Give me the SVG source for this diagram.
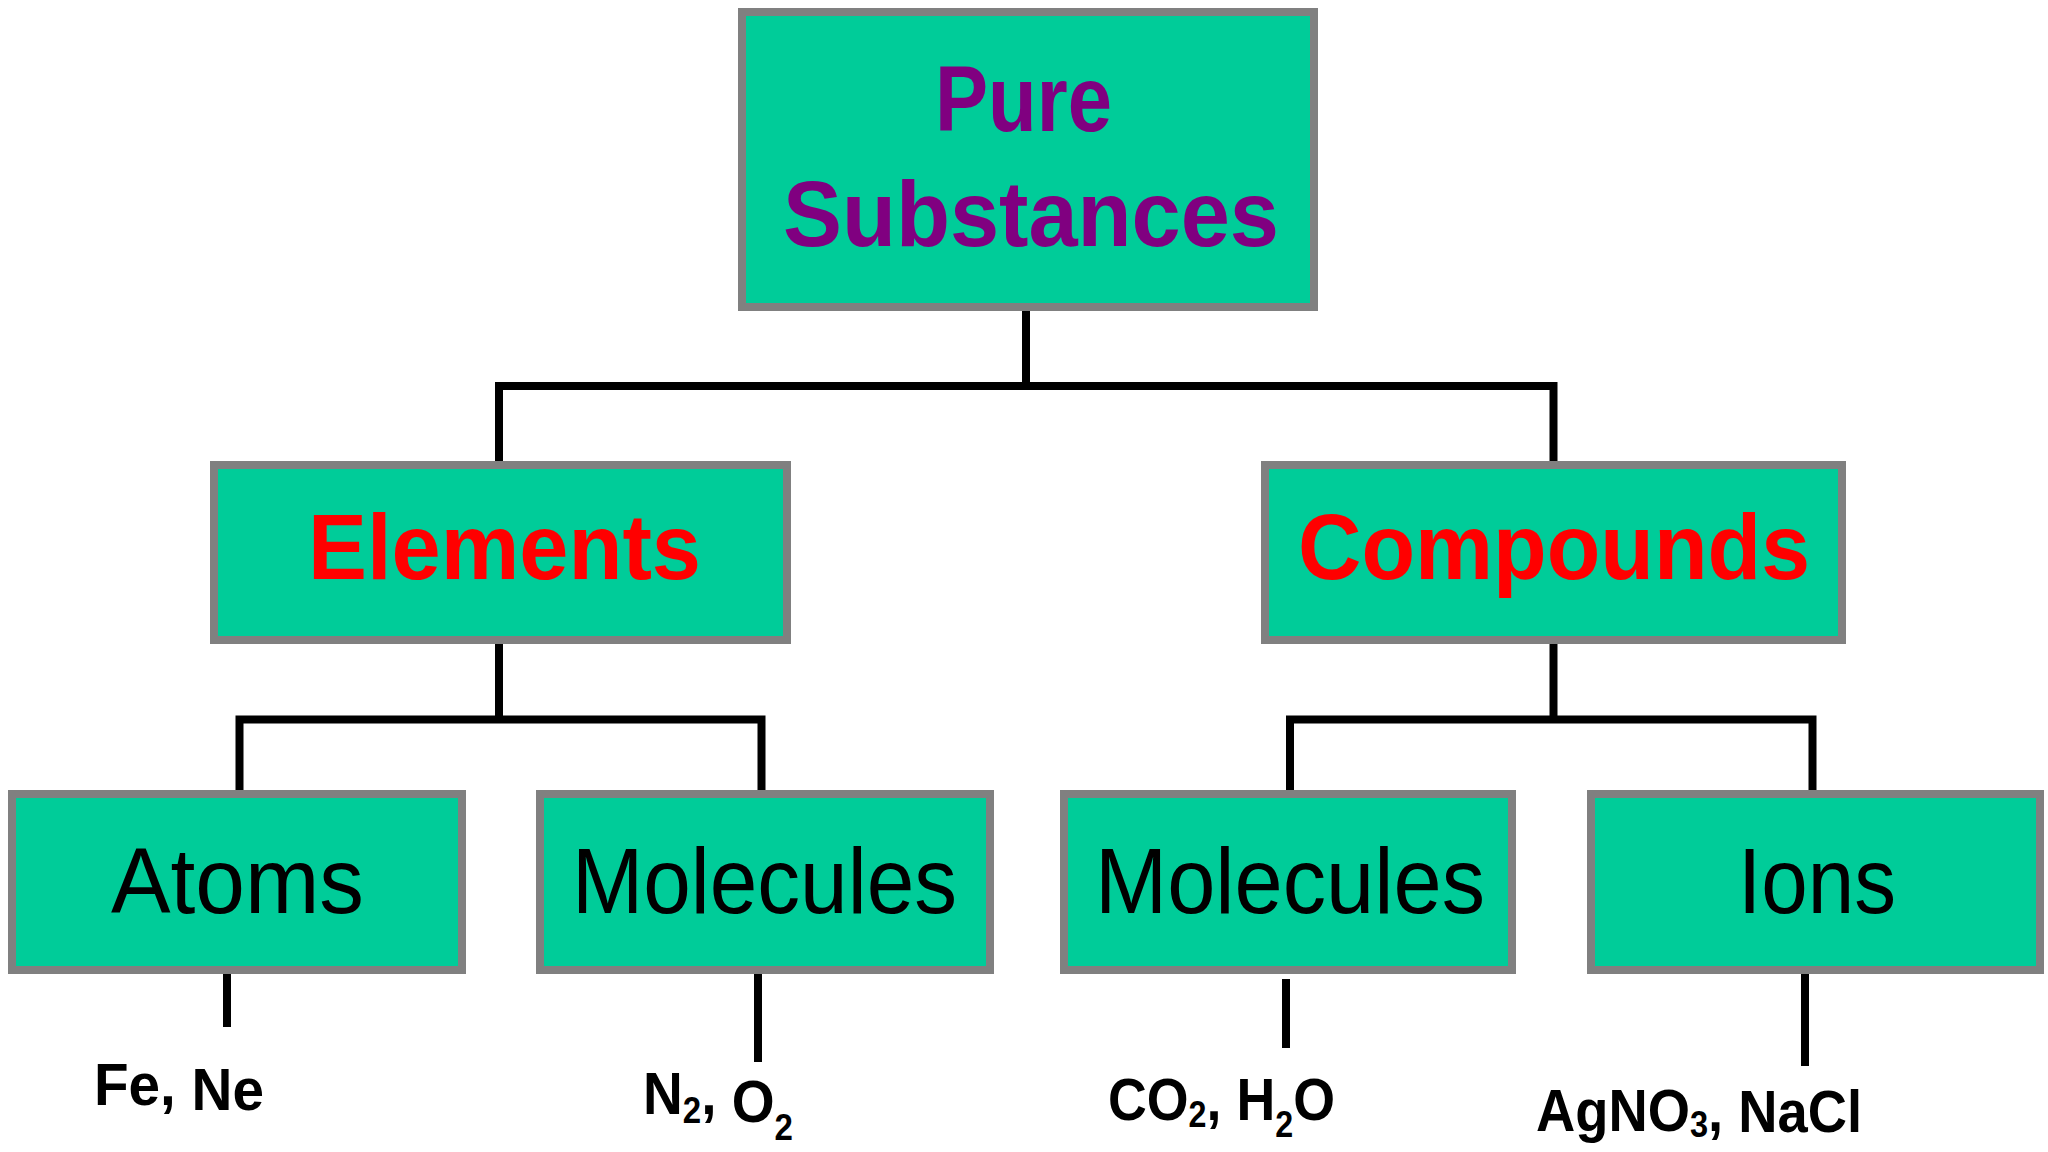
<svg xmlns="http://www.w3.org/2000/svg" width="2048" height="1152" viewBox="0 0 2048 1152">
<style>
.box{fill:#00cc99;stroke:#808080;stroke-width:8}
.con{fill:none;stroke:#000;stroke-width:8;stroke-linejoin:miter;stroke-linecap:butt}
.t{font-family:"Liberation Sans",Arial,sans-serif;font-size:92px}
.b{font-weight:bold}
.pur{fill:#800080}
.red{fill:#ff0000}
.blk{fill:#000}
.ex{font-family:"Liberation Sans",Arial,sans-serif;font-weight:bold;font-size:60px;fill:#000}
.sub{font-size:36px}
</style>
<rect width="2048" height="1152" fill="#ffffff"/>
<g id="connectors">
<path class="con" d="M1026 311 V386"/>
<path class="con" d="M499 461 V386 H1553.5 V461"/>
<path class="con" d="M499 644 V719.5"/>
<path class="con" d="M239.5 790 V719.5 H761.5 V790"/>
<path class="con" d="M1553.5 644 V719.5"/>
<path class="con" d="M1290 790 V719.5 H1812.5 V790"/>
<path class="con" d="M227 974 V1027"/>
<path class="con" d="M758 974 V1062"/>
<path class="con" d="M1286 979 V1048"/>
<path class="con" d="M1805 974 V1066"/>
</g>
<g id="pure-substances">
<rect class="box" x="742" y="12" width="572" height="295"/>
<text class="t b pur" x="935" y="131" textLength="177" lengthAdjust="spacingAndGlyphs">Pure</text>
<text class="t b pur" x="783" y="246" textLength="496" lengthAdjust="spacingAndGlyphs">Substances</text>
</g>
<g id="elements">
<rect class="box" x="214" y="465" width="573" height="175"/>
<text class="t b red" x="308" y="579" textLength="393" lengthAdjust="spacingAndGlyphs">Elements</text>
</g>
<g id="compounds">
<rect class="box" x="1265" y="465" width="577" height="175"/>
<text class="t b red" x="1298" y="579" textLength="512" lengthAdjust="spacingAndGlyphs">Compounds</text>
</g>
<g id="atoms">
<rect class="box" x="12" y="794" width="450" height="176"/>
<text class="t blk" x="111" y="913" textLength="253" lengthAdjust="spacingAndGlyphs">Atoms</text>
</g>
<g id="molecules-elements">
<rect class="box" x="540" y="794" width="450" height="176"/>
<text class="t blk" x="572" y="913" textLength="385" lengthAdjust="spacingAndGlyphs">Molecules</text>
</g>
<g id="molecules-compounds">
<rect class="box" x="1064" y="794" width="448" height="176"/>
<text class="t blk" x="1095" y="913" textLength="390" lengthAdjust="spacingAndGlyphs">Molecules</text>
</g>
<g id="ions">
<rect class="box" x="1591" y="794" width="449" height="176"/>
<text class="t blk" x="1738" y="913" textLength="158" lengthAdjust="spacingAndGlyphs">Ions</text>
</g>
<g id="example-atoms">
<text class="ex" x="94" y="1105" font-size="58" textLength="170" lengthAdjust="spacingAndGlyphs">Fe, <tspan dy="5">Ne</tspan></text>
</g>
<g id="example-molecules-elements">
<text class="ex" x="643" y="1114" font-size="58" textLength="150" lengthAdjust="spacingAndGlyphs">N<tspan class="sub" dy="9">2</tspan><tspan dy="-9">, </tspan><tspan dy="8">O</tspan><tspan class="sub" dy="18">2</tspan></text>
</g>
<g id="example-molecules-compounds">
<text class="ex" x="1108" y="1120" textLength="227" lengthAdjust="spacingAndGlyphs">CO<tspan class="sub" dy="7">2</tspan><tspan dy="-7">, H</tspan><tspan class="sub" dy="17">2</tspan><tspan dy="-17">O</tspan></text>
</g>
<g id="example-ions">
<text class="ex" x="1536" y="1131" textLength="326" lengthAdjust="spacingAndGlyphs">AgNO<tspan class="sub" dy="6">3</tspan><tspan dy="-6">, </tspan><tspan dy="1">NaCl</tspan></text>
</g>
</svg>
